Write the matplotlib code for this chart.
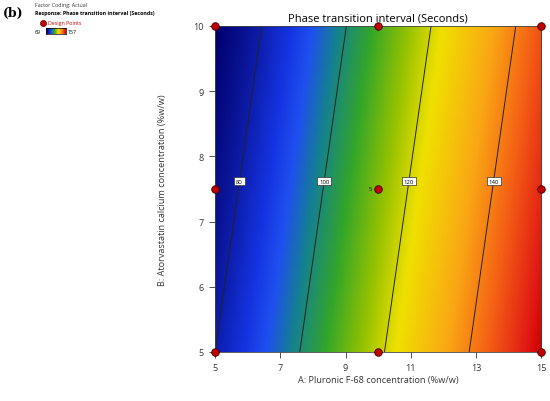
import numpy as np
import matplotlib.pyplot as plt
from matplotlib.colors import LinearSegmentedColormap

plt.rcParams['font.family'] = ['Open Sans', 'DejaVu Sans']

# factor ranges
a_range = [5, 15]
b_range = [5, 10]
# fitted linear model: response = b0 + bA*(A-5) + bB*(B-10)
b0, bA, bB = 69.0, 7.7, -2.2
resp_min, resp_max = 69, 157
contour_levels = [80, 100, 120, 140]
# design points
pts_a = [5, 5, 5, 10, 10, 10, 15, 15, 15]
pts_b = [5, 7.5, 10, 5, 7.5, 10, 5, 7.5, 10]
x_ticks = [5, 7, 9, 11, 13, 15]
y_ticks = [5, 6, 7, 8, 9, 10]

cmap = LinearSegmentedColormap.from_list('de', [
    (0.0, (0.0, 0.0, 0.43)),
    (0.09, (0.04, 0.08, 0.59)),
    (0.2, (0.08, 0.2, 0.88)),
    (0.26, (0.12, 0.31, 0.94)),
    (0.33, (0.08, 0.51, 0.55)),
    (0.42, (0.2, 0.65, 0.16)),
    (0.52, (0.59, 0.76, 0.0)),
    (0.61, (0.94, 0.88, 0.0)),
    (0.75, (0.98, 0.65, 0.08)),
    (0.85, (0.96, 0.39, 0.08)),
    (0.96, (0.88, 0.1, 0.08)),
    (1.0, (0.82, 0.0, 0.0)),
])

A, B = np.meshgrid(np.linspace(*a_range, 300), np.linspace(*b_range, 300))
R = b0 + bA * (A - 5) + bB * (B - 10)

fig = plt.figure(figsize=(5.5, 4.02), dpi=100)
ax = fig.add_axes([0.391, 0.122, 0.593, 0.811])
ax.imshow(R, extent=[5, 15, 5, 10], origin='lower', aspect='auto',
          cmap=cmap, vmin=resp_min, vmax=resp_max, interpolation='bilinear')
cs = ax.contour(A, B, R, levels=contour_levels, colors='#222222', linewidths=0.7)
for lev in contour_levels:
    yl = 7.5 + 0.12
    xp = 5 + (lev - b0 - bB * (yl - 10)) / bA
    ax.text(xp, yl, str(lev), fontsize=4.3, ha='center', va='center',
            bbox=dict(boxstyle='square,pad=0.3', fc='white', ec='#333333', lw=0.5), zorder=5)
ax.scatter(pts_a, pts_b, s=30, c='#c00000', edgecolors='#400000', linewidths=0.6,
           zorder=6, clip_on=False)
ax.text(9.8, 7.5, '5', fontsize=4, ha='right', va='center', zorder=6)

ax.set_xlim(a_range)
ax.set_ylim(b_range)
ax.set_xticks(x_ticks)
ax.set_yticks(y_ticks)
ax.tick_params(labelsize=6.5, length=4, width=0.6, colors='#333333', pad=4)
ax.set_title('Phase transition interval (Seconds)', fontsize=8, pad=4)
ax.set_xlabel('A: Pluronic F-68 concentration (%w/w)', fontsize=6.6, color='#333333', labelpad=2)
ax.set_ylabel('B: Atorvastatin calcium concentration (%w/w)', fontsize=6.6, color='#333333', labelpad=19)
for s in ax.spines.values():
    s.set_linewidth(0.6)
    s.set_color('#444444')

# legend block
fig.text(3 / 550, 1 - 13 / 402, '(b)', fontsize=9, fontweight='bold', family='DejaVu Serif', va='center')
fig.text(35 / 550, 1 - 6 / 402, 'Factor Coding: Actual', fontsize=3.8, va='center', color='#333333')
fig.text(35 / 550, 1 - 14 / 402, 'Response: Phase transition interval (Seconds)', fontsize=3.8,
         fontweight='bold', va='center')
fig.text(48 / 550, 1 - 24 / 402, 'Design Points', fontsize=3.8, va='center', color='#c00000')
fig.add_artist(plt.Line2D([42.5 / 550], [1 - 24 / 402], marker='o', ms=4.5, color='#c00000',
                          mec='#400000', mew=0.4, transform=fig.transFigure))
cax = fig.add_axes([46 / 550, 1 - 35 / 402, 20 / 550, 6 / 402])
cax.imshow(np.linspace(0, 1, 100)[None, :], aspect='auto', cmap=cmap)
cax.set_xticks([])
cax.set_yticks([])
for s in cax.spines.values():
    s.set_linewidth(0.5)
fig.text(35 / 550, 1 - 32 / 402, '69', fontsize=3.8, va='center')
fig.text(68 / 550, 1 - 32 / 402, '157', fontsize=3.8, va='center')

fig.savefig('out.png', dpi=100)
